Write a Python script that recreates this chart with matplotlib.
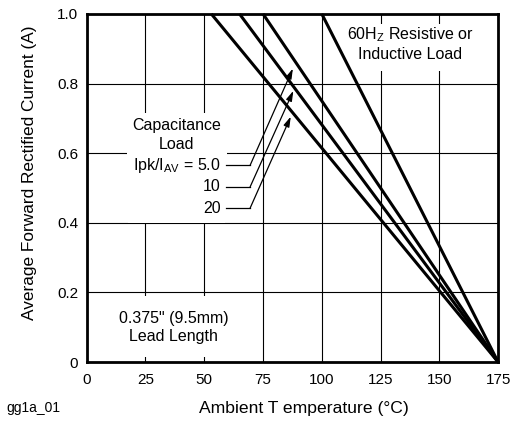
import numpy as np
import matplotlib.pyplot as plt

plt.rcParams['font.family'] = ['Liberation Sans', 'DejaVu Sans']

# derating curves: current falls linearly from 1.0 A at t_knee to 0 at 175 C
t_max = 175
knee_resistive = 100
ratios = ['5.0', '10', '20']
knee_capacitive = [75, 65, 53]

# arrow tips (data coords) and label rows for the Ipk/IAV labels
tip_x = [87.7, 87.9, 86.8]
tip_y = [0.843, 0.779, 0.705]
label_y = [0.565, 0.503, 0.442]

x_ticks = [0, 25, 50, 75, 100, 125, 150, 175]
y_ticks = [0, 0.2, 0.4, 0.6, 0.8, 1.0]
y_ticklabels = ['0', '0.2', '0.4', '0.6', '0.8', '1.0']

fig = plt.figure(figsize=(5.13, 4.21), dpi=100)
ax = fig.add_axes([0.169, 0.140, 0.802, 0.827])

ax.set_xlim(0, 175)
ax.set_ylim(0, 1.0)
ax.set_xticks(x_ticks)
ax.set_yticks(y_ticks)
ax.set_yticklabels(y_ticklabels)
ax.tick_params(length=0, labelsize=11, pad=6)
ax.tick_params(axis='x', pad=8)
ax.grid(True, color='black', linewidth=0.8)
ax.set_axisbelow(True)
for s in ax.spines.values():
    s.set_linewidth(2)

for k in knee_capacitive + [knee_resistive]:
    ax.plot([k, t_max], [1.0, 0.0], color='black', linewidth=2.2, zorder=4,
            solid_capstyle='butt', clip_on=False)

# white boxes behind the notes, cutting the grid
box = dict(facecolor='white', edgecolor='none', pad=4)
ax.text(38.3, 0.652, 'Capacitance\nLoad', ha='center', va='center',
        fontsize=11.5, linespacing=1.3, bbox=box, zorder=3)
ax.add_patch(plt.Rectangle((17.5, 0.40), 41.5, 0.31, facecolor='white',
                           edgecolor='none', zorder=2))
ax.add_patch(plt.Rectangle((17.5, 0.015), 41.5, 0.175, facecolor='white',
                           edgecolor='none', zorder=2))
ax.add_patch(plt.Rectangle((112, 0.835), 50, 0.135, facecolor='white',
                           edgecolor='none', zorder=2))

labels = ['Ipk/I$_{\\mathregular{AV}}$ = 5.0', '10', '20']
for lab, ly, tx, ty in zip(labels, label_y, tip_x, tip_y):
    ax.text(57, ly, lab, ha='right', va='center', fontsize=11.5, zorder=3)
    ax.plot([59.3, 69.5], [ly, ly], color='black', linewidth=0.9, zorder=3)
    ax.annotate('', xy=(tx, ty), xytext=(69.5, ly),
                arrowprops=dict(arrowstyle='-|>,head_length=0.6,head_width=0.18',
                                color='black', linewidth=0.9,
                                shrinkA=0, shrinkB=0), zorder=3)

ax.text(137.6, 0.915, '60H$_{\\mathregular{Z}}$ Resistive or\nInductive Load',
        ha='center', va='center', fontsize=11.5, linespacing=1.3, zorder=3)
ax.text(36.9, 0.099, '0.375" (9.5mm)\nLead Length', ha='center', va='center',
        fontsize=11.5, linespacing=1.3, zorder=3)

ax.set_xlabel('Ambient T emperature (\u00b0C)', fontsize=12.6)
ax.xaxis.set_label_coords(0.528, -0.111)
ax.set_ylabel('Average Forward Rectified Current (A)', fontsize=12.4)
ax.yaxis.set_label_coords(-0.12, 0.545)
fig.text(0.012, 0.03, 'gg1a_01', fontsize=10, va='center')

fig.savefig('out.png', dpi=100)
